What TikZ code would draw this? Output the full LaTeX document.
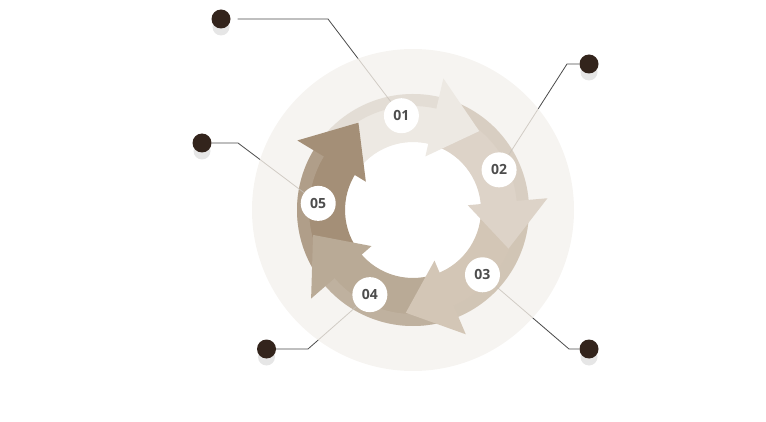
\documentclass[tikz,border=0pt]{standalone}
\usepackage{fontspec}
\newfontfamily\lblfont{Open Sans}
\usetikzlibrary{calc}
\definecolor{diskc}{HTML}{F6F4F1}
\definecolor{aA}{HTML}{EDE9E3}
\definecolor{aB}{HTML}{DDD3C8}
\definecolor{aC}{HTML}{D3C6B6}
\definecolor{aD}{HTML}{B9AA96}
\definecolor{aE}{HTML}{A48F77}
\definecolor{stripec}{HTML}{CFC3B5}
\definecolor{dotc}{HTML}{33241C}
\definecolor{shadc}{HTML}{E6E6E6}
\definecolor{linec}{HTML}{4A4A4A}
\definecolor{fadec}{HTML}{C8C2BA}
\definecolor{txtc}{HTML}{4D4D4D}
\pgfdeclarelayer{lines}
\pgfdeclarelayer{disk}
\pgfdeclarelayer{faint}
\pgfsetlayers{lines,disk,faint,main}
\begin{document}
\begin{tikzpicture}[x=1pt,y=1pt,
  lbl/.style={circle,fill=white,minimum size=35pt,inner sep=0pt,font=\lblfont\bfseries\fontsize{14}{14}\selectfont,text=txtc},
  dotn/.style={circle,fill=dotc,minimum size=19pt,inner sep=0pt},
  lead/.style={draw=linec,line width=0.8pt},
  fade/.style={draw=fadec,line width=0.8pt,opacity=0.8}]
\useasboundingbox (0,0) rectangle (766,421);
\coordinate (C) at (413,211);
% label circles
\node[lbl] (l1) at ($(C)+(97:95pt)$) {01};
\node[lbl] (l2) at ($(C)+(25:95pt)$) {02};
\node[lbl] (l3) at ($(C)+(-43:95pt)$) {03};
\node[lbl] (l4) at ($(C)+(-117:95pt)$) {04};
\node[lbl] (l5) at ($(C)+(176:95pt)$) {05};
% dots with shadows
\fill[shadc] (221,394) circle (8.5pt);
\node[dotn] (d1) at (221,402) {};
\fill[shadc] (589,349) circle (8.5pt);
\node[dotn] (d2) at (589,357) {};
\fill[shadc] (202,270) circle (8.5pt);
\node[dotn] (d3) at (202,278) {};
\fill[shadc] (266.5,64) circle (8.5pt);
\node[dotn] (d4) at (266.5,72) {};
\fill[shadc] (589,64) circle (8.5pt);
\node[dotn] (d5) at (589,72) {};
% bends
\coordinate (b1) at (328,402);
\coordinate (b2) at (567,357);
\coordinate (b3) at (238,278);
\coordinate (b4) at (308,72);
\coordinate (b5) at (569,72);
\begin{pgfonlayer}{lines}
\draw[lead] ([xshift=7pt]d1.east) -- (b1) -- (l1);
\draw[lead] (d2) -- (b2) -- (l2);
\draw[lead] (d3) -- (b3) -- (l5);
\draw[lead] (d4) -- (b4) -- (l4);
\draw[lead] (d5) -- (b5) -- (l3);
\end{pgfonlayer}
\begin{pgfonlayer}{disk}
\fill[diskc] (C) circle (161pt);
\fill[white] (C) circle (68pt);
\foreach \a/\c in {77/aA,5/aB,-67/aC,-139/aD,-211/aE}{
  \fill[\c] ($(C)+(\a+71:116pt)$) arc[start angle=\a+71,end angle=\a-3,radius=116pt]
    -- ($(C)+(\a-3:68pt)$) arc[start angle=\a-3,end angle=\a+71,radius=68pt] -- cycle;
}
\fill[stripec,opacity=0.3,even odd rule] (C) circle (116pt) (C) circle (104pt);
\foreach \a/\c in {77/aA,5/aB,-67/aC,-139/aD,-211/aE}{
  \fill[\c] ($(C)+(\a:55pt)$) -- ($(C)+(\a:135pt)$) -- ($(C)+(\a-27:103pt)$) -- cycle;
}
\end{pgfonlayer}
\begin{pgfonlayer}{faint}
\begin{scope}
\clip (C) circle (161pt);
\draw[fade] ([xshift=7pt]d1.east) -- (b1) -- (l1);
\draw[fade] (d2) -- (b2) -- (l2);
\draw[fade] (d3) -- (b3) -- (l5);
\draw[fade] (d4) -- (b4) -- (l4);
\draw[fade] (d5) -- (b5) -- (l3);
\end{scope}
\end{pgfonlayer}
\end{tikzpicture}
\end{document}
